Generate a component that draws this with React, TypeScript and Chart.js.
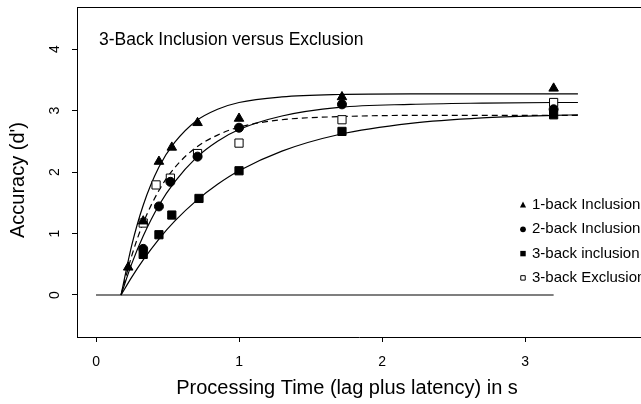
import React, { useEffect, useRef } from 'react';
import { Chart, registerables } from 'chart.js';

Chart.register(...registerables);

const TITLE = '3-Back Inclusion versus Exclusion';
const X_TITLE = 'Processing Time (lag plus latency) in s';
const Y_TITLE = "Accuracy (d')";
const X_TICKS = [0, 1, 2, 3];
const Y_TICKS = [0, 1, 2, 3, 4];
const SERIES_NAMES = ['1-back Inclusion', '2-back Inclusion', '3-back inclusion', '3-back Exclusion'];

// observed points (processing time in s, accuracy d')
const ONE_T = [0.225, 0.33, 0.44, 0.53, 0.71, 1.0, 1.72, 3.2];
const ONE_D = [0.45, 1.2, 2.17, 2.4, 2.8, 2.87, 3.22, 3.36];
const TWO_T = [0.33, 0.44, 0.52, 0.71, 1.0, 1.72, 3.2];
const TWO_D = [0.75, 1.44, 1.84, 2.25, 2.72, 3.1, 3.02];
const THREE_T = [0.33, 0.44, 0.53, 0.72, 1.0, 1.72, 3.2];
const THREE_D = [0.66, 0.98, 1.3, 1.57, 2.02, 2.66, 2.93];
const EXCL_T = [0.33, 0.42, 0.52, 0.71, 1.0, 1.72, 3.2];
const EXCL_D = [1.17, 1.79, 1.9, 2.3, 2.47, 2.85, 3.13];

// fitted curves
const CURVE_T = [0.175, 0.25, 0.33, 0.44, 0.55, 0.7, 0.85, 1.0, 1.3, 1.7, 2.2, 2.7, 3.2, 3.37];
const CURVE_ONE = [0, 0.81, 1.46, 2.08, 2.48, 2.83, 3.02, 3.13, 3.22, 3.26, 3.27, 3.27, 3.27, 3.27];
const CURVE_TWO = [0, 0.51, 0.96, 1.46, 1.84, 2.23, 2.5, 2.69, 2.91, 3.05, 3.1, 3.12, 3.13, 3.13];
const CURVE_THREE = [0, 0.29, 0.57, 0.91, 1.2, 1.53, 1.8, 2.02, 2.34, 2.61, 2.79, 2.88, 2.92, 2.93];
const CURVE_EXCL = [0, 0.64, 1.17, 1.7, 2.07, 2.4, 2.6, 2.73, 2.85, 2.9, 2.92, 2.92, 2.92, 2.92];

const ZERO_T = [0, 3.2];
const ZERO_D = [0, 0];

const FONT = '"Liberation Sans", Arial, Helvetica, sans-serif';
const INK = '#000';

const pts = (t: number[], d: number[]) => t.map((x, i) => ({ x, y: d[i] }));

const markerSet = (t: number[], d: number[], style: string, radius: number, fill: string) => ({
  data: pts(t, d),
  showLine: false,
  pointStyle: style,
  pointRadius: radius,
  pointBackgroundColor: fill,
  pointBorderColor: INK,
  pointBorderWidth: 1,
});

const curveSet = (t: number[], d: number[], dash: number[]) => ({
  data: pts(t, d),
  showLine: true,
  pointRadius: 0,
  borderColor: INK,
  borderWidth: 1.2,
  borderDash: dash,
  cubicInterpolationMode: 'monotone',
  fill: false,
});

function drawMarker(ctx: CanvasRenderingContext2D, kind: number, x: number, y: number, s: number) {
  ctx.beginPath();
  if (kind === 0) {
    ctx.moveTo(x, y - s);
    ctx.lineTo(x + s * 0.9, y + s * 0.7);
    ctx.lineTo(x - s * 0.9, y + s * 0.7);
    ctx.closePath();
    ctx.fill();
  } else if (kind === 1) {
    ctx.arc(x, y, s * 0.85, 0, Math.PI * 2);
    ctx.fill();
  } else if (kind === 2) {
    ctx.rect(x - s * 0.8, y - s * 0.8, s * 1.6, s * 1.6);
    ctx.fill();
  } else {
    ctx.rect(x - s * 0.8 + 0.5, y - s * 0.8 + 0.5, s * 1.6 - 1, s * 1.6 - 1);
    ctx.stroke();
  }
}

const decorations = {
  id: 'decorations',
  afterDraw(chart: any) {
    const { ctx, chartArea: ca } = chart;
    ctx.save();
    ctx.strokeStyle = INK;
    ctx.fillStyle = INK;
    ctx.lineWidth = 1;
    // top frame line
    ctx.beginPath();
    ctx.moveTo(ca.left, ca.top + 0.5);
    ctx.lineTo(chart.width, ca.top + 0.5);
    ctx.stroke();

    // panel title
    ctx.textBaseline = 'middle';
    ctx.textAlign = 'left';
    ctx.font = `17.5px ${FONT}`;
    ctx.fillText(TITLE, ca.left + 22, ca.top + 33);

    // legend
    ctx.font = `15px ${FONT}`;
    const lx = 523;
    const ly0 = 205;
    const step = 24.3;
    SERIES_NAMES.forEach((name, i) => {
      const y = ly0 + i * step;
      drawMarker(ctx, i, lx, y, 3.4);
      ctx.fillText(name, lx + 9, y);
    });

    // axis titles
    ctx.textAlign = 'center';
    ctx.font = `20px ${FONT}`;
    ctx.fillText(X_TITLE, 347, 388);
    ctx.save();
    ctx.translate(18, 180);
    ctx.rotate(-Math.PI / 2);
    ctx.fillText(Y_TITLE, 0, 0);
    ctx.restore();
    ctx.restore();
  },
};

export default function App() {
  const ref = useRef<HTMLCanvasElement>(null);
  useEffect(() => {
    document.body.style.margin = '0';
    const canvas = ref.current;
    if (!canvas) return;
    const datasets: any[] = [
      markerSet(ONE_T, ONE_D, 'triangle', 5.5, INK),
      markerSet(TWO_T, TWO_D, 'circle', 4.5, INK),
      markerSet(EXCL_T, EXCL_D, 'rect', 5.8, '#fff'),
      markerSet(THREE_T, THREE_D, 'rect', 5.8, INK),
      curveSet(CURVE_T, CURVE_ONE, []),
      curveSet(CURVE_T, CURVE_TWO, []),
      curveSet(CURVE_T, CURVE_THREE, []),
      curveSet(CURVE_T, CURVE_EXCL, [6, 4]),
      curveSet(ZERO_T, ZERO_D, []),
    ];
    const chart = new Chart(canvas, {
      type: 'scatter',
      data: { datasets },
      options: {
        animation: false,
        responsive: false,
        devicePixelRatio: 1,
        events: [],
        layout: { autoPadding: false, padding: { top: 7, left: 0, right: 0, bottom: 0 } },
        plugins: { legend: { display: false }, tooltip: { enabled: false }, title: { display: false } },
        scales: {
          x: {
            type: 'linear',
            min: -0.133,
            max: 3.811,
            afterFit: (s: any) => { s.height = 67; s.paddingLeft = 0; s.paddingRight = 0; },
            afterBuildTicks: (s: any) => { s.ticks = X_TICKS.map((v) => ({ value: v })); },
            grid: { drawOnChartArea: false, drawTicks: true, tickLength: 5, color: INK },
            border: { display: true, color: INK, width: 1 },
            ticks: { color: INK, font: { family: FONT, size: 14 }, padding: 12, autoSkip: false, maxRotation: 0, minRotation: 0 },
          },
          y: {
            type: 'linear',
            min: -0.683,
            max: 4.683,
            afterFit: (s: any) => { s.width = 77; s.paddingTop = 0; s.paddingBottom = 0; },
            afterBuildTicks: (s: any) => { s.ticks = Y_TICKS.map((v) => ({ value: v })); },
            grid: { drawOnChartArea: false, drawTicks: true, tickLength: 5, color: INK },
            border: { display: true, color: INK, width: 1 },
            ticks: { color: INK, font: { family: FONT, size: 14 }, padding: 13, autoSkip: false, minRotation: 90, maxRotation: 90, crossAlign: 'center' },
          },
        },
      } as any,
      plugins: [decorations],
    });
    return () => chart.destroy();
  }, []);
  return (
    <div style={{ width: 641, height: 404, overflow: 'hidden' }}>
      <canvas ref={ref} width={641} height={404} style={{ display: 'block' }} />
    </div>
  );
}
